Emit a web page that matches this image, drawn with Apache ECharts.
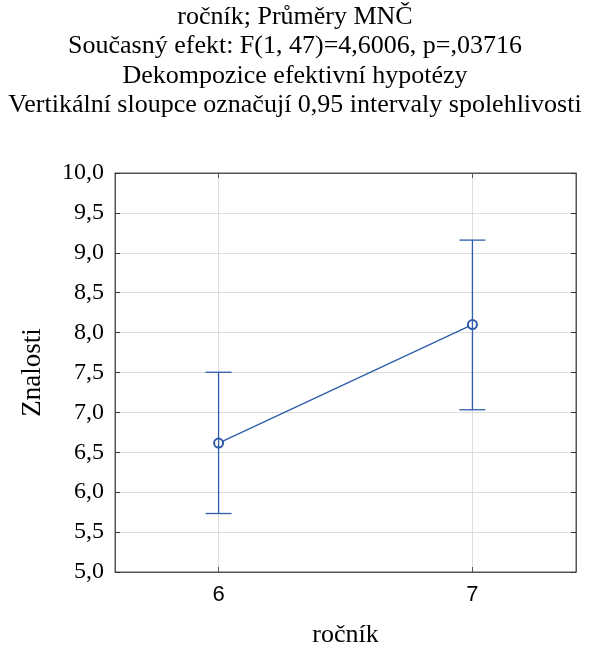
<!DOCTYPE html>
<html>
<head>
<meta charset="utf-8">
<script src="https://cdn.jsdelivr.net/npm/echarts@6/dist/echarts.min.js"></script>
<style>html,body{margin:0;padding:0;background:#fff}#c{width:590px;height:646px}</style>
</head>
<body>
<div id="c"></div>
<script>
var titleLines = [
  'ročník; Průměry MNČ',
  'Současný efekt: F(1, 47)=4,6006, p=,03716',
  'Dekompozice efektivní hypotézy',
  'Vertikální sloupce označují 0,95 intervaly spolehlivosti'
];
var categories = [6, 7];
var means = [6.615, 8.10];
var lower = [5.733, 7.033];
var upper = [7.503, 9.159];
var yTicks = [5, 5.5, 6, 6.5, 7, 7.5, 8, 8.5, 9, 9.5, 10];
var xName = 'ročník';
var yName = 'Znalosti';

var blue = '#2C5CAA';
var frame = '#555555';
var grid = '#dddddd';
var serif = '"Liberation Serif", "Times New Roman", serif';
var sans = '"Liberation Sans", Arial, sans-serif';

var xMin = 5.592, xMax = 7.408;

var chart = echarts.init(document.getElementById('c'));
chart.setOption({
  animation: false,
  backgroundColor: '#fff',
  title: {
    text: titleLines.join('\n'),
    left: 'center',
    top: -3,
    textStyle: {fontFamily: serif, fontSize: 26, fontWeight: 'normal', color: '#000', lineHeight: 29.5}
  },
  grid: {left: 115, top: 173, right: 14, bottom: 74, outerBoundsMode: 'none', containLabel: false,
    show: true, borderColor: frame, borderWidth: 1, backgroundColor: 'transparent'},
  xAxis: [{
    type: 'value', min: xMin, max: xMax, position: 'bottom',
    name: xName, nameLocation: 'middle', nameGap: 50,
    nameTextStyle: {fontFamily: serif, fontSize: 26, color: '#000'},
    axisLine: {show: true, lineStyle: {color: frame}},
    axisTick: {show: true, inside: true, length: 5, customValues: categories, lineStyle: {color: frame}},
    axisLabel: {show: true, customValues: categories, margin: 12, fontFamily: sans, fontSize: 22, color: '#000'},
    splitLine: {show: false}
  }, {
    type: 'value', min: xMin, max: xMax, position: 'top',
    axisLine: {show: true, lineStyle: {color: frame}},
    axisTick: {show: true, inside: true, length: 5, customValues: categories, lineStyle: {color: frame}},
    axisLabel: {show: false},
    splitLine: {show: false}
  }],
  yAxis: [{
    type: 'value', min: yTicks[0], max: yTicks[yTicks.length - 1], interval: 0.5, position: 'left',
    name: yName, nameLocation: 'middle', nameGap: 69,
    nameTextStyle: {fontFamily: serif, fontSize: 27, color: '#000'},
    axisLine: {show: true, lineStyle: {color: frame}},
    axisTick: {show: true, inside: true, length: 5, lineStyle: {color: '#333'}},
    axisLabel: {margin: 11, fontFamily: serif, fontSize: 24, color: '#000',
      formatter: function (v) { return v.toFixed(1).replace('.', ','); }},
    splitLine: {show: true, lineStyle: {color: grid, width: 1}}
  }, {
    type: 'value', min: yTicks[0], max: yTicks[yTicks.length - 1], interval: 0.5, position: 'right',
    axisLine: {show: true, lineStyle: {color: frame}},
    axisTick: {show: true, inside: true, length: 5, lineStyle: {color: '#333'}},
    axisLabel: {show: false},
    splitLine: {show: false}
  }],
  series: [{
    type: 'line',
    data: categories.map(function (c) { return [c, yTicks[0]]; }),
    symbol: 'none',
    lineStyle: {opacity: 0},
    silent: true,
    z: 0,
    markLine: {
      silent: true, symbol: 'none', label: {show: false}, z: 0,
      lineStyle: {color: grid, type: 'solid', width: 1},
      data: categories.map(function (c) { return {xAxis: c}; })
    }
  }, {
    type: 'line',
    data: categories.map(function (c, i) { return [c, means[i]]; }),
    symbol: 'emptyCircle', symbolSize: 9,
    lineStyle: {color: blue, width: 1.3},
    itemStyle: {color: blue, borderColor: blue, borderWidth: 1.2},
    z: 5
  }, {
    type: 'custom',
    data: categories.map(function (c, i) { return [c, lower[i], upper[i]]; }),
    renderItem: function (params, api) {
      var x = api.value(0);
      var lo = api.coord([x, api.value(1)]);
      var hi = api.coord([x, api.value(2)]);
      var hw = 13;
      var st = {stroke: blue, lineWidth: 1.3};
      return {type: 'group', children: [
        {type: 'line', shape: {x1: lo[0], y1: lo[1], x2: hi[0], y2: hi[1]}, style: st},
        {type: 'line', shape: {x1: lo[0] - hw, y1: lo[1], x2: lo[0] + hw, y2: lo[1]}, style: st},
        {type: 'line', shape: {x1: hi[0] - hw, y1: hi[1], x2: hi[0] + hw, y2: hi[1]}, style: st}
      ]};
    },
    z: 8
  }]
});
</script>
</body>
</html>
